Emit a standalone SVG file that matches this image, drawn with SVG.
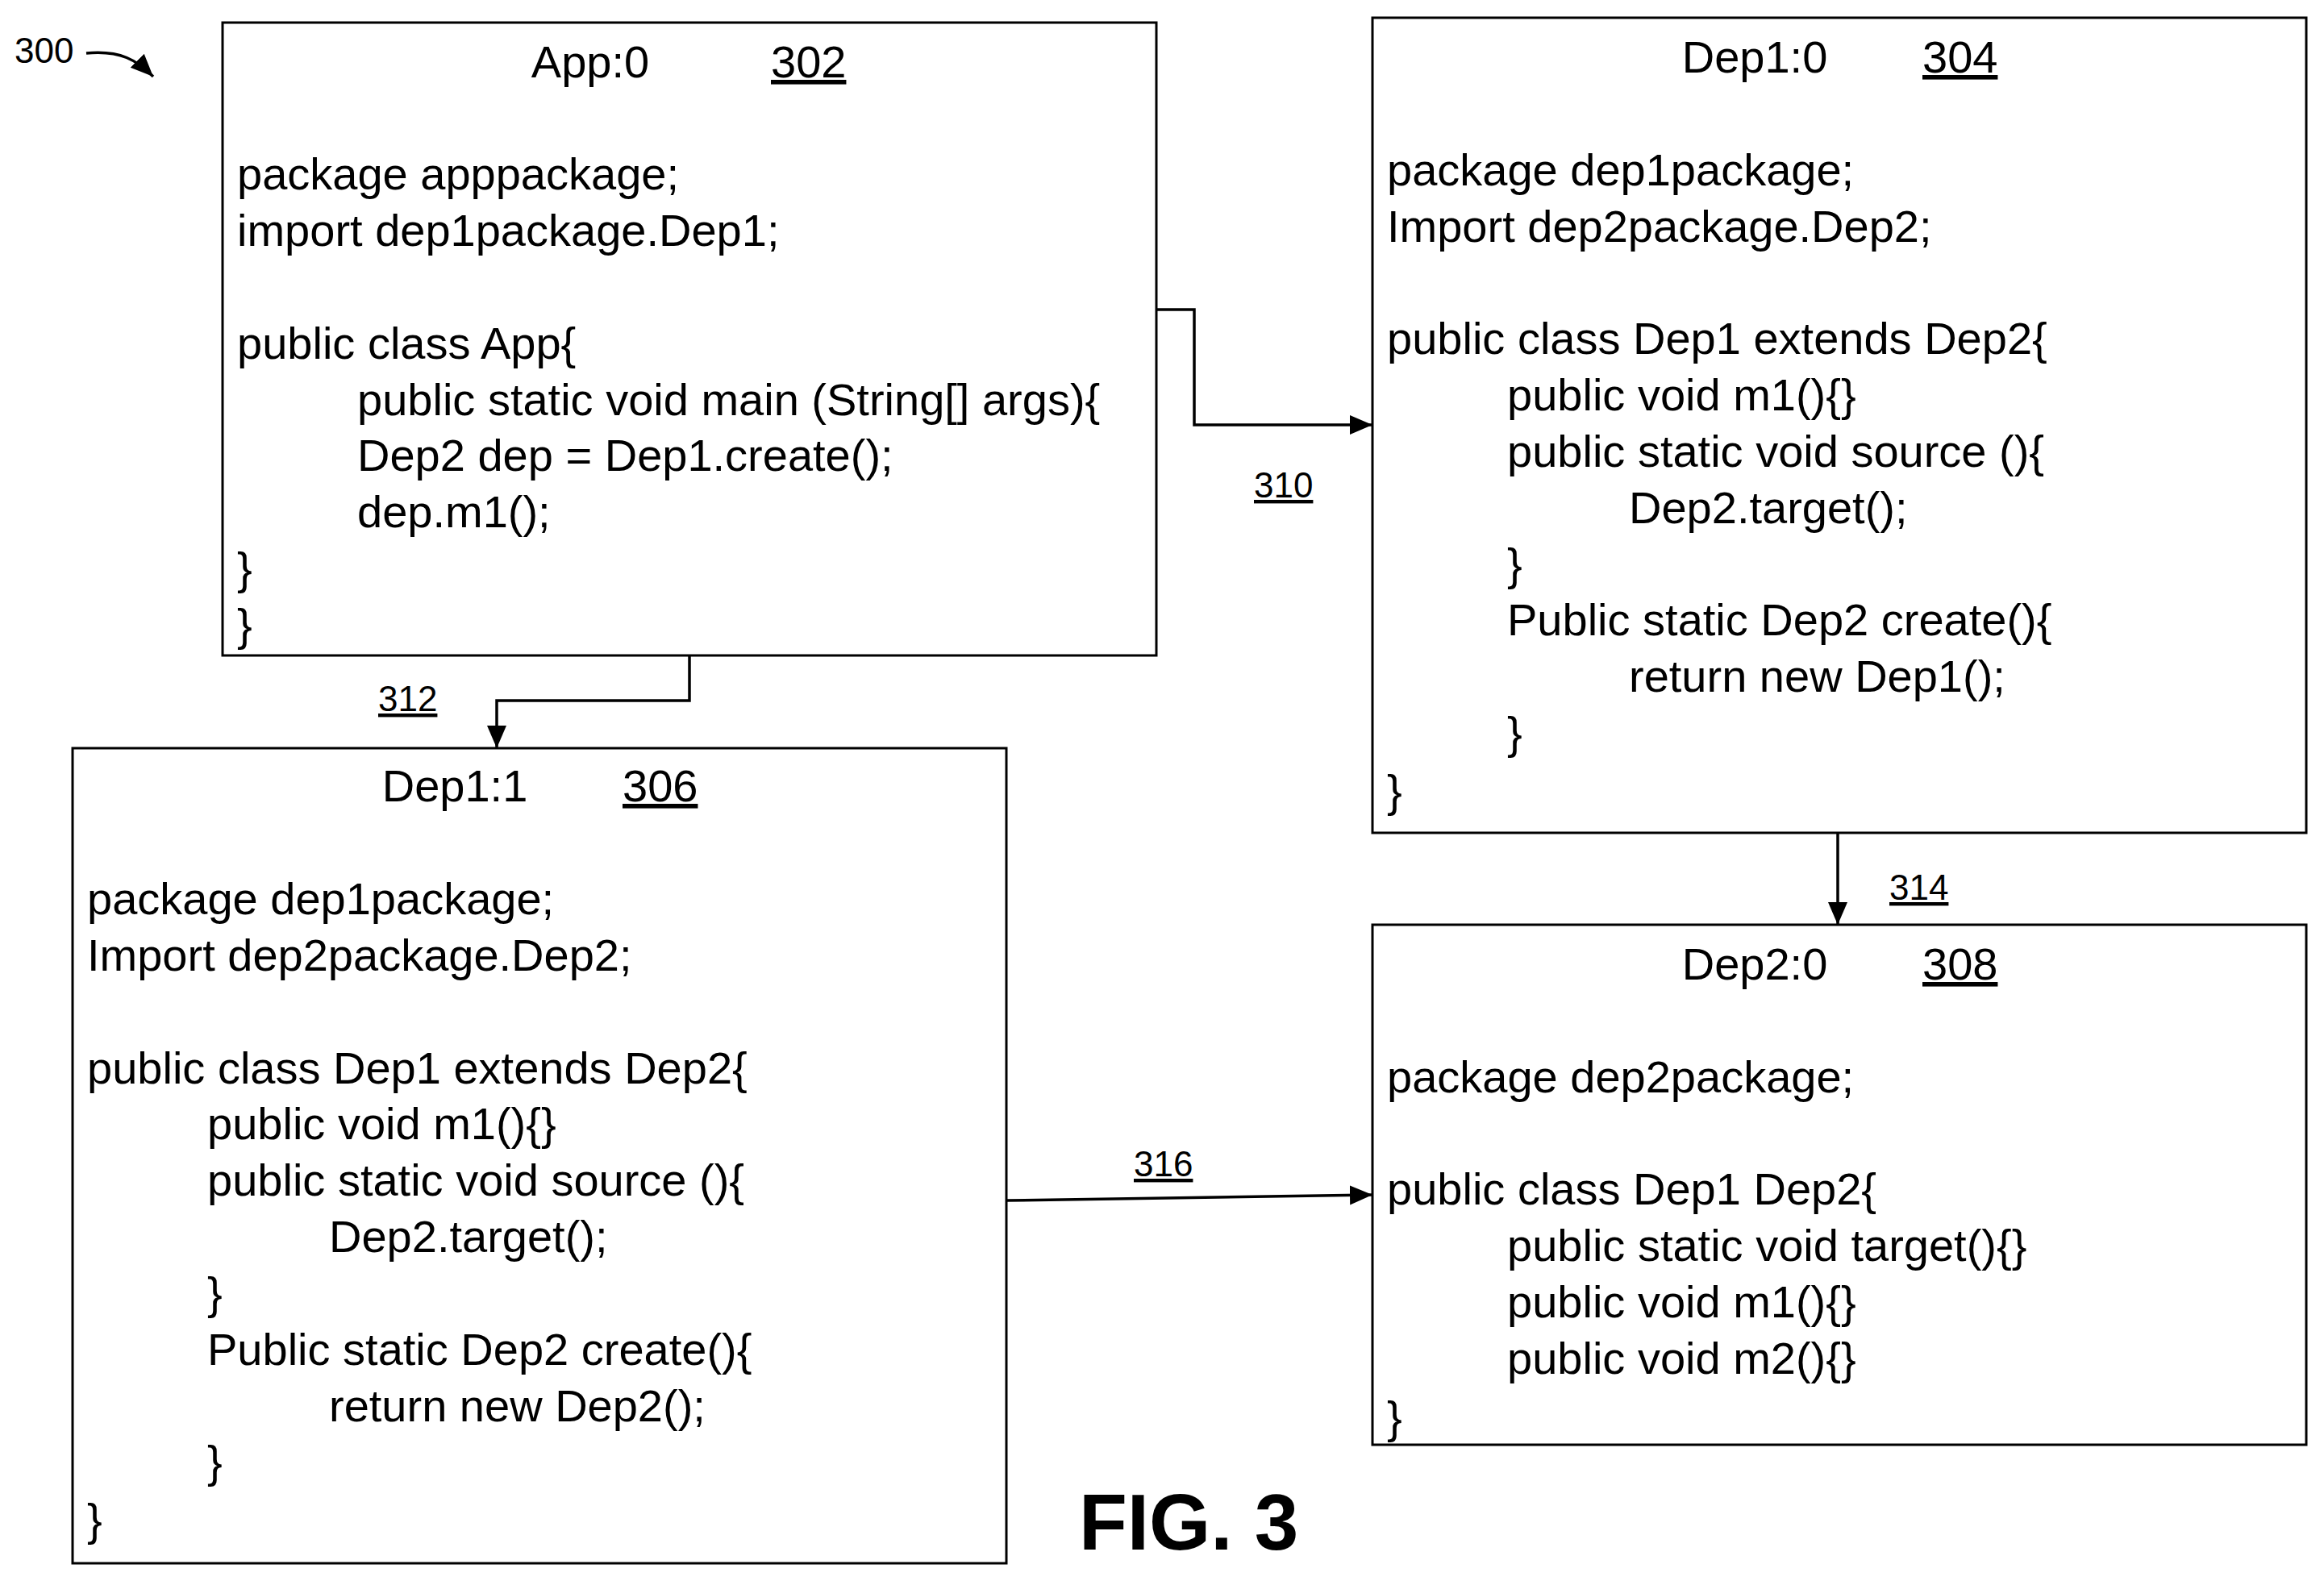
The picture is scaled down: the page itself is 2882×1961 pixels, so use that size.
<svg xmlns="http://www.w3.org/2000/svg" width="2882" height="1961" viewBox="0 0 2882 1961">
<style>
text{font-family:"Liberation Sans",Arial,sans-serif;fill:#000}
.c{font-size:56px}
.t{font-size:56px;text-anchor:middle}
.n{font-size:56px;text-decoration:underline}
.l{font-size:44px;text-decoration:underline}
.box{fill:#fff;stroke:#000;stroke-width:3}
.ln{fill:none;stroke:#000;stroke-width:3.5}
</style>
<defs><marker id="a" viewBox="0 0 10 10" refX="10" refY="5" markerWidth="7" markerHeight="7" orient="auto" markerUnits="userSpaceOnUse" style="overflow:visible"><path d="M0,0 L10,5 L0,10 z" transform="scale(2.8) translate(-6.4,-3.2)"/></marker>
<marker id="b" viewBox="0 0 28 28" refX="28" refY="14" markerWidth="28" markerHeight="28" orient="auto" markerUnits="userSpaceOnUse"><path d="M0,2 L28,14 L0,26 z"/></marker></defs>
<rect width="2882" height="1961" fill="#fff"/>
<g id="label300"><text x="18" y="78" style="font-size:44px">300</text><path class="ln" d="M107,66 C150,62 170,75 190,95" marker-end="url(#b)"/></g>
<g id="app">
<rect class="box" x="276" y="28" width="1158" height="785"/>
<text class="t" x="732" y="96">App:0</text><text class="n" x="956" y="96">302</text>
<text class="c" x="294" y="235">package apppackage;</text>
<text class="c" x="294" y="305">import dep1package.Dep1;</text>
<text class="c" x="294" y="445">public class App{</text>
<text class="c" x="443" y="515">public static void main (String[] args){</text>
<text class="c" x="443" y="584">Dep2 dep = Dep1.create();</text>
<text class="c" x="443" y="654">dep.m1();</text>
<text class="c" x="294" y="724">}</text>
<text class="c" x="294" y="794">}</text>
</g>
<g id="dep1_0">
<rect class="box" x="1702" y="22" width="1158" height="1011"/>
<text class="t" x="2176" y="90">Dep1:0</text><text class="n" x="2384" y="90">304</text>
<text class="c" x="1720" y="230">package dep1package;</text>
<text class="c" x="1720" y="300">Import dep2package.Dep2;</text>
<text class="c" x="1720" y="439">public class Dep1 extends Dep2{</text>
<text class="c" x="1869" y="509">public void m1(){}</text>
<text class="c" x="1869" y="579">public static void source (){</text>
<text class="c" x="2020" y="649">Dep2.target();</text>
<text class="c" x="1869" y="719">}</text>
<text class="c" x="1869" y="788">Public static Dep2 create(){</text>
<text class="c" x="2020" y="858">return new Dep1();</text>
<text class="c" x="1869" y="928">}</text>
<text class="c" x="1720" y="1000">}</text>
</g>
<g id="dep1_1">
<rect class="box" x="90" y="928" width="1158" height="1011"/>
<text class="t" x="564" y="994">Dep1:1</text><text class="n" x="772" y="994">306</text>
<text class="c" x="108" y="1134">package dep1package;</text>
<text class="c" x="108" y="1204">Import dep2package.Dep2;</text>
<text class="c" x="108" y="1344">public class Dep1 extends Dep2{</text>
<text class="c" x="257" y="1413">public void m1(){}</text>
<text class="c" x="257" y="1483">public static void source (){</text>
<text class="c" x="408" y="1553">Dep2.target();</text>
<text class="c" x="257" y="1623">}</text>
<text class="c" x="257" y="1693">Public static Dep2 create(){</text>
<text class="c" x="408" y="1763">return new Dep2();</text>
<text class="c" x="257" y="1832">}</text>
<text class="c" x="108" y="1904">}</text>
</g>
<g id="dep2_0">
<rect class="box" x="1702" y="1147" width="1158" height="645"/>
<text class="t" x="2176" y="1215">Dep2:0</text><text class="n" x="2384" y="1215">308</text>
<text class="c" x="1720" y="1355">package dep2package;</text>
<text class="c" x="1720" y="1494">public class Dep1 Dep2{</text>
<text class="c" x="1869" y="1564">public static void target(){}</text>
<text class="c" x="1869" y="1634">public void m1(){}</text>
<text class="c" x="1869" y="1704">public void m2(){}</text>
<text class="c" x="1720" y="1777">}</text>
</g>
<g id="connectors">
<path class="ln" d="M1434,384 H1481 V527 H1702" marker-end="url(#b)"/>
<path class="ln" d="M855,813 V869 H616 V928" marker-end="url(#b)"/>
<path class="ln" d="M2279,1033 V1147" marker-end="url(#b)"/>
<path class="ln" d="M1248,1489 L1702,1482" marker-end="url(#b)"/>
<text class="l" x="1555" y="617">310</text>
<text class="l" x="469" y="882">312</text>
<text class="l" x="2343" y="1116">314</text>
<text class="l" x="1406" y="1459">316</text>
</g>
<text x="1338" y="1922" style="font-size:98px;font-weight:bold">FIG. 3</text>
</svg>
